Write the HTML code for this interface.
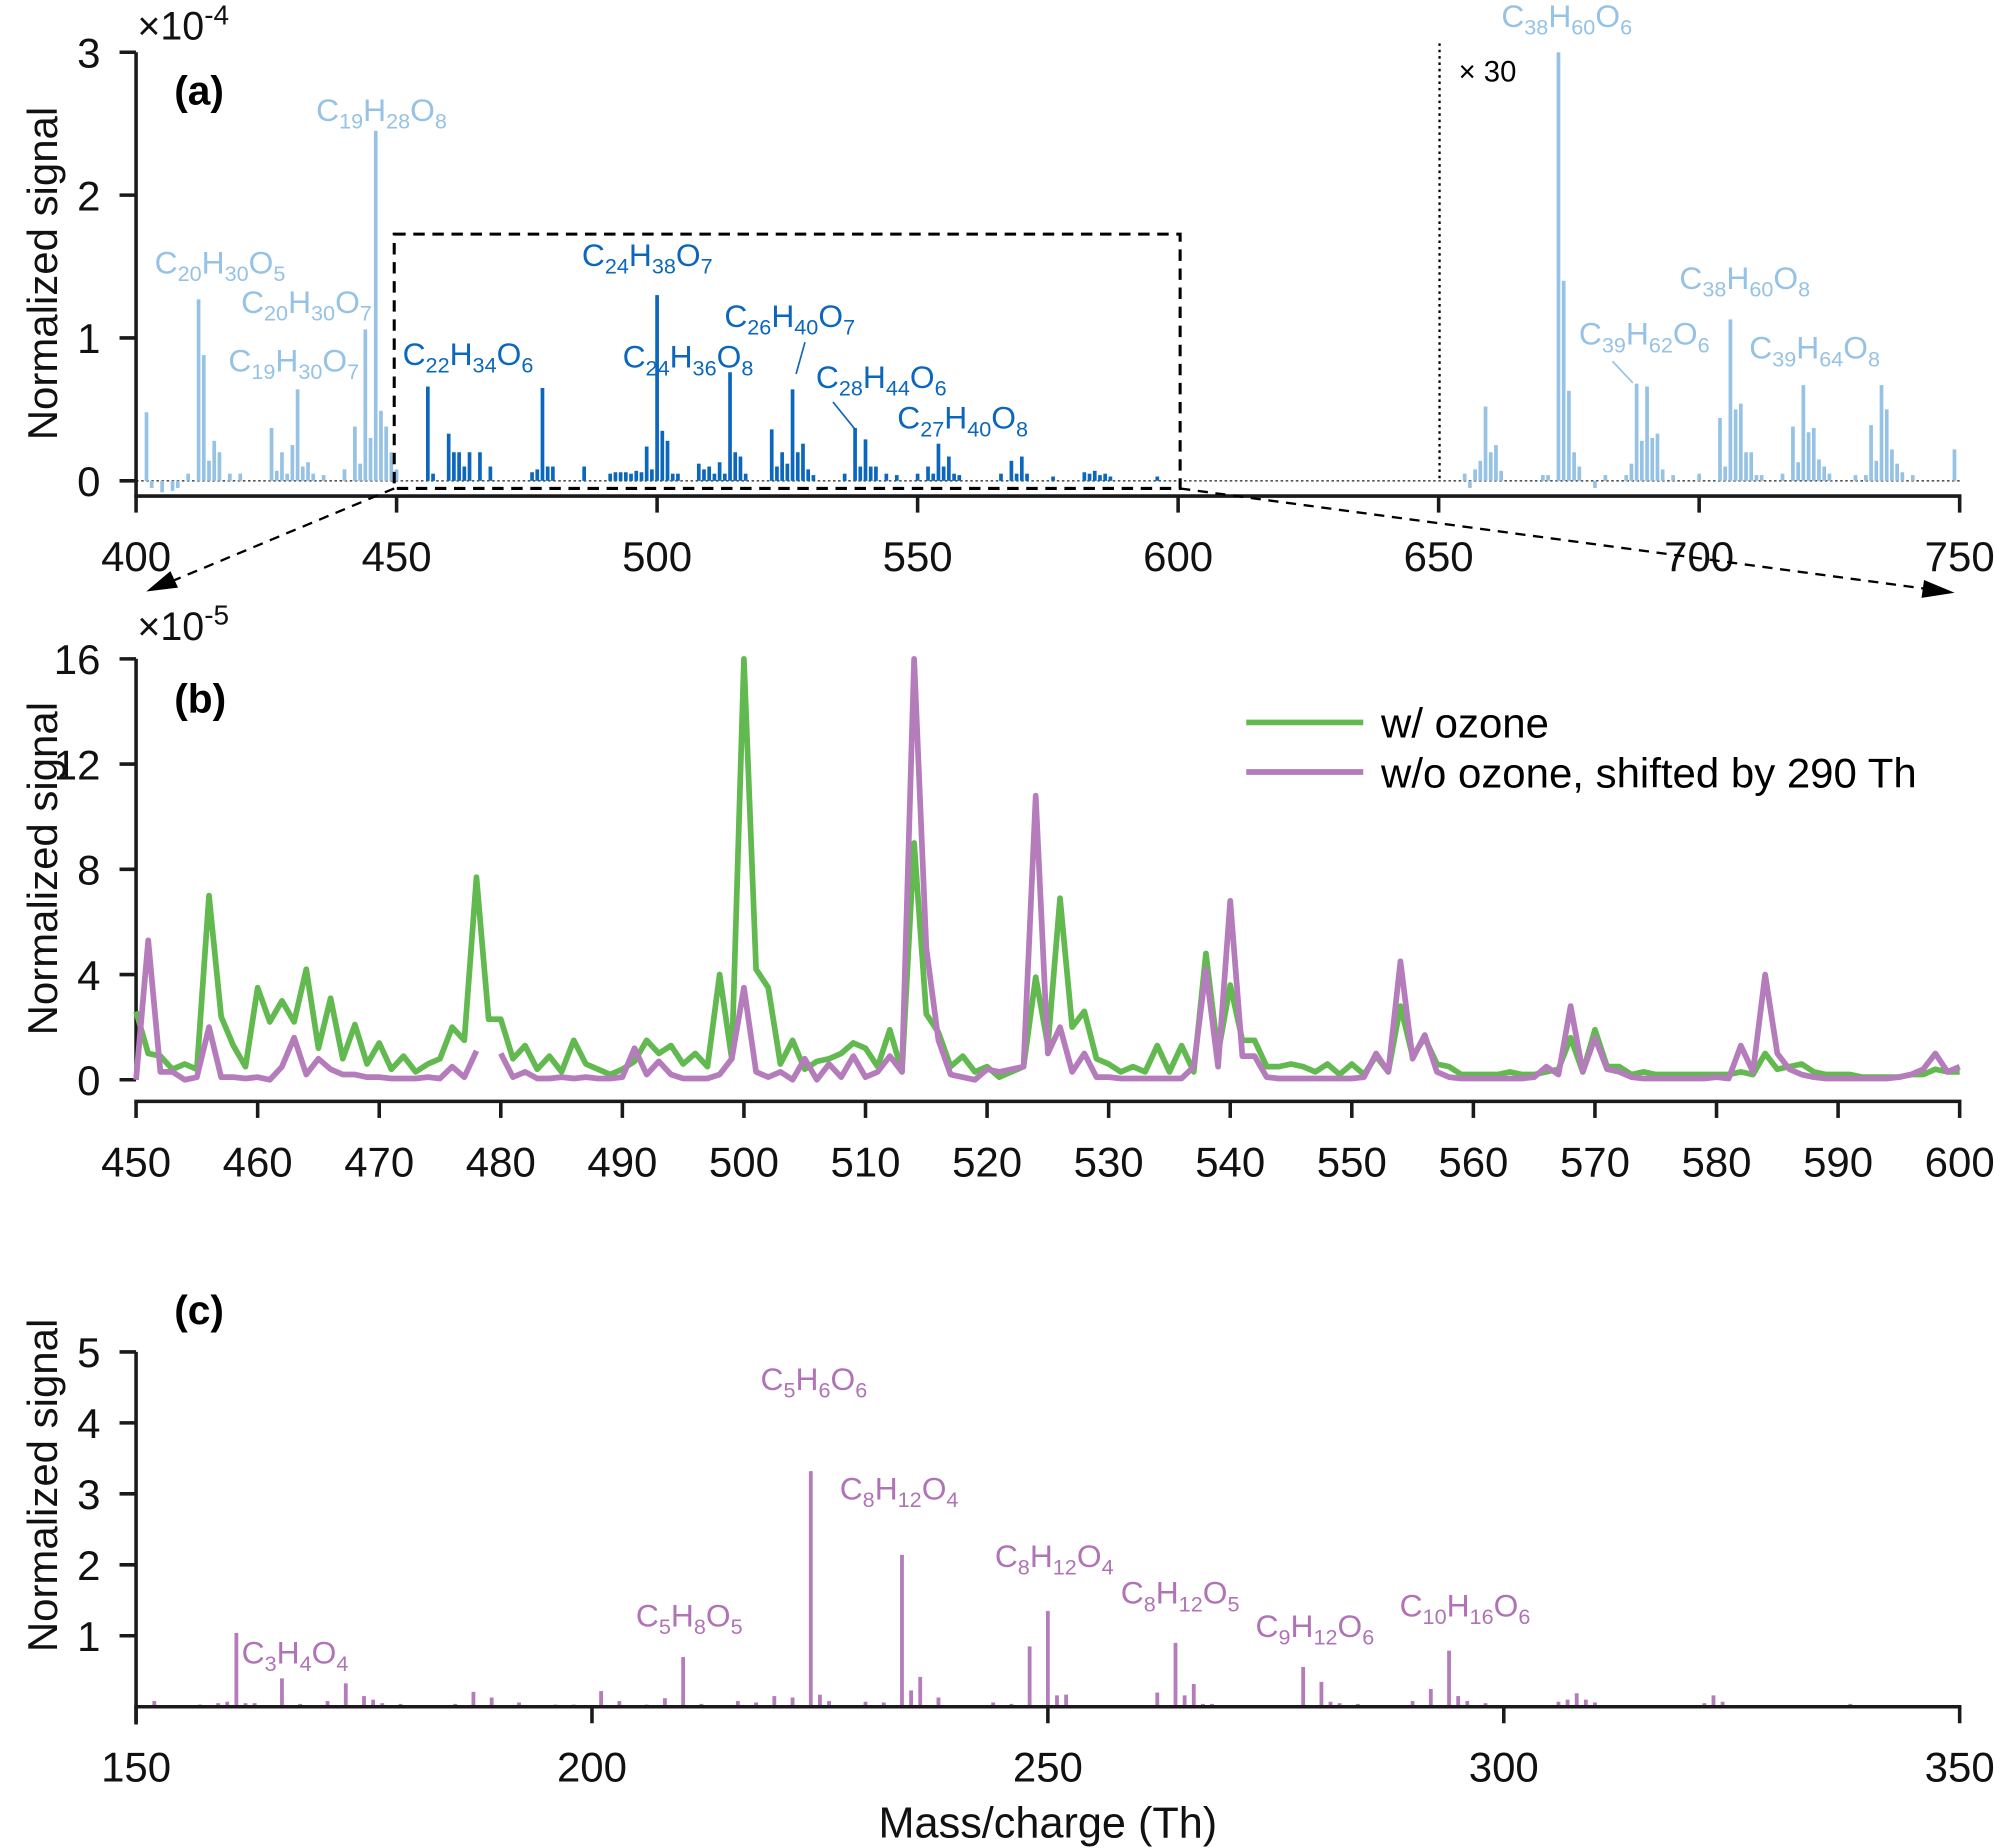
<!DOCTYPE html>
<html><head><meta charset="utf-8">
<style>
html,body{margin:0;padding:0;background:#fff;}
svg{display:block;font-family:"Liberation Sans",Arial,sans-serif;}
.tk{font-size:33px;fill:#111;}
.s{font-size:17px;}
.fl{font-size:25px;}
</style></head>
<body>
<svg id="fig" width="1994" height="1848" viewBox="0 0 1568 1453" xmlns="http://www.w3.org/2000/svg">
<g id="pa"></g>
<g id="pb"></g>
<g id="pc"></g>

<text x="108" y="31" font-size="31" fill="#111">×10<tspan dy="-12" font-size="22">-4</tspan></text>
<text x="137" y="82" font-size="32" font-weight="bold" fill="#000">(a)</text>
<text transform="translate(45,215) rotate(-90)" text-anchor="middle" font-size="33" fill="#111">Normalized signal</text>
<text x="1147" y="64" font-size="23" fill="#000">× 30</text>

<g fill="#95c2e5" class="fl">
<text x="300" y="95" text-anchor="middle">C<tspan class="s" dy="6">19</tspan><tspan dy="-6">H</tspan><tspan class="s" dy="6">28</tspan><tspan dy="-6">O</tspan><tspan class="s" dy="6">8</tspan></text>
<text x="173" y="215" text-anchor="middle">C<tspan class="s" dy="6">20</tspan><tspan dy="-6">H</tspan><tspan class="s" dy="6">30</tspan><tspan dy="-6">O</tspan><tspan class="s" dy="6">5</tspan></text>
<text x="241" y="246" text-anchor="middle">C<tspan class="s" dy="6">20</tspan><tspan dy="-6">H</tspan><tspan class="s" dy="6">30</tspan><tspan dy="-6">O</tspan><tspan class="s" dy="6">7</tspan></text>
<text x="231" y="292" text-anchor="middle">C<tspan class="s" dy="6">19</tspan><tspan dy="-6">H</tspan><tspan class="s" dy="6">30</tspan><tspan dy="-6">O</tspan><tspan class="s" dy="6">7</tspan></text>
<text x="1232" y="21" text-anchor="middle">C<tspan class="s" dy="6">38</tspan><tspan dy="-6">H</tspan><tspan class="s" dy="6">60</tspan><tspan dy="-6">O</tspan><tspan class="s" dy="6">6</tspan></text>
<text x="1372" y="227" text-anchor="middle">C<tspan class="s" dy="6">38</tspan><tspan dy="-6">H</tspan><tspan class="s" dy="6">60</tspan><tspan dy="-6">O</tspan><tspan class="s" dy="6">8</tspan></text>
<text x="1293" y="271" text-anchor="middle">C<tspan class="s" dy="6">39</tspan><tspan dy="-6">H</tspan><tspan class="s" dy="6">62</tspan><tspan dy="-6">O</tspan><tspan class="s" dy="6">6</tspan></text>
<text x="1427" y="282" text-anchor="middle">C<tspan class="s" dy="6">39</tspan><tspan dy="-6">H</tspan><tspan class="s" dy="6">64</tspan><tspan dy="-6">O</tspan><tspan class="s" dy="6">8</tspan></text>
<line x1="1268" y1="284" x2="1284" y2="301" stroke="#95c2e5" stroke-width="1.3"/>
</g>
<g fill="#0b66bd" class="fl">
<text x="368" y="287" text-anchor="middle">C<tspan class="s" dy="6">22</tspan><tspan dy="-6">H</tspan><tspan class="s" dy="6">34</tspan><tspan dy="-6">O</tspan><tspan class="s" dy="6">6</tspan></text>
<text x="509" y="209" text-anchor="middle">C<tspan class="s" dy="6">24</tspan><tspan dy="-6">H</tspan><tspan class="s" dy="6">38</tspan><tspan dy="-6">O</tspan><tspan class="s" dy="6">7</tspan></text>
<text x="541" y="289" text-anchor="middle">C<tspan class="s" dy="6">24</tspan><tspan dy="-6">H</tspan><tspan class="s" dy="6">36</tspan><tspan dy="-6">O</tspan><tspan class="s" dy="6">8</tspan></text>
<text x="621" y="257" text-anchor="middle">C<tspan class="s" dy="6">26</tspan><tspan dy="-6">H</tspan><tspan class="s" dy="6">40</tspan><tspan dy="-6">O</tspan><tspan class="s" dy="6">7</tspan></text>
<text x="693" y="305" text-anchor="middle">C<tspan class="s" dy="6">28</tspan><tspan dy="-6">H</tspan><tspan class="s" dy="6">44</tspan><tspan dy="-6">O</tspan><tspan class="s" dy="6">6</tspan></text>
<text x="757" y="337" text-anchor="middle">C<tspan class="s" dy="6">27</tspan><tspan dy="-6">H</tspan><tspan class="s" dy="6">40</tspan><tspan dy="-6">O</tspan><tspan class="s" dy="6">8</tspan></text>
<line x1="633" y1="269" x2="626" y2="294" stroke="#0b66bd" stroke-width="1.3"/>
<line x1="655" y1="316" x2="672" y2="337" stroke="#0b66bd" stroke-width="1.3"/>
</g>

<rect x="310" y="184" width="618" height="200" fill="none" stroke="#000" stroke-width="2.4" stroke-dasharray="9,6"/>
<line x1="310" y1="384" x2="135" y2="457" stroke="#000" stroke-width="1.8" stroke-dasharray="8,6"/>
<polygon points="115,465 134,449 140,462" fill="#000"/>
<line x1="928" y1="384" x2="1515" y2="463" stroke="#000" stroke-width="1.8" stroke-dasharray="8,6"/>
<polygon points="1537,466 1513,456 1511,470" fill="#000"/>
<line x1="1132" y1="34" x2="1132" y2="378" stroke="#000" stroke-width="1.8" stroke-dasharray="2,3"/>

<text x="108" y="503" font-size="31" fill="#111">×10<tspan dy="-12" font-size="22">-5</tspan></text>
<text x="137" y="560" font-size="32" font-weight="bold" fill="#000">(b)</text>
<text transform="translate(45,683) rotate(-90)" text-anchor="middle" font-size="33" fill="#111">Normalized signal</text>
<line x1="980" y1="568" x2="1072" y2="568" stroke="#62b94f" stroke-width="4.5"/>
<text x="1086" y="580" font-size="33" fill="#000">w/ ozone</text>
<line x1="980" y1="607" x2="1072" y2="607" stroke="#b47cbb" stroke-width="4.5"/>
<text x="1086" y="619" font-size="33" fill="#000">w/o ozone, shifted by 290 Th</text>

<text x="137" y="1041" font-size="32" font-weight="bold" fill="#000">(c)</text>
<text transform="translate(45,1168) rotate(-90)" text-anchor="middle" font-size="33" fill="#111">Normalized signal</text>
<text x="824" y="1445" text-anchor="middle" font-size="34" fill="#111">Mass/charge (Th)</text>
<g fill="#b073b5" class="fl">
<text x="232" y="1308" text-anchor="middle">C<tspan class="s" dy="6">3</tspan><tspan dy="-6">H</tspan><tspan class="s" dy="6">4</tspan><tspan dy="-6">O</tspan><tspan class="s" dy="6">4</tspan></text>
<text x="542" y="1279" text-anchor="middle">C<tspan class="s" dy="6">5</tspan><tspan dy="-6">H</tspan><tspan class="s" dy="6">8</tspan><tspan dy="-6">O</tspan><tspan class="s" dy="6">5</tspan></text>
<text x="640" y="1093" text-anchor="middle">C<tspan class="s" dy="6">5</tspan><tspan dy="-6">H</tspan><tspan class="s" dy="6">6</tspan><tspan dy="-6">O</tspan><tspan class="s" dy="6">6</tspan></text>
<text x="707" y="1179" text-anchor="middle">C<tspan class="s" dy="6">8</tspan><tspan dy="-6">H</tspan><tspan class="s" dy="6">12</tspan><tspan dy="-6">O</tspan><tspan class="s" dy="6">4</tspan></text>
<text x="829" y="1232" text-anchor="middle">C<tspan class="s" dy="6">8</tspan><tspan dy="-6">H</tspan><tspan class="s" dy="6">12</tspan><tspan dy="-6">O</tspan><tspan class="s" dy="6">4</tspan></text>
<text x="928" y="1261" text-anchor="middle">C<tspan class="s" dy="6">8</tspan><tspan dy="-6">H</tspan><tspan class="s" dy="6">12</tspan><tspan dy="-6">O</tspan><tspan class="s" dy="6">5</tspan></text>
<text x="1034" y="1287" text-anchor="middle">C<tspan class="s" dy="6">9</tspan><tspan dy="-6">H</tspan><tspan class="s" dy="6">12</tspan><tspan dy="-6">O</tspan><tspan class="s" dy="6">6</tspan></text>
<text x="1152" y="1271" text-anchor="middle">C<tspan class="s" dy="6">10</tspan><tspan dy="-6">H</tspan><tspan class="s" dy="6">16</tspan><tspan dy="-6">O</tspan><tspan class="s" dy="6">6</tspan></text>
</g>
</svg>
<script>
var aLightMz = [402,403,405,407,408,410,412,413,414,415,416,418,420,426,427,428,429,430,431,432,433,434,436,440,442,443,444,445,446,447,448,449,450];
var aLightVal = [0.48,-0.05,-0.08,-0.07,-0.05,0.05,1.27,0.88,0.14,0.28,0.2,0.05,0.05,0.37,0.07,0.2,0.05,0.25,0.64,0.1,0.13,0.05,0.04,0.08,0.38,0.12,1.06,0.3,2.45,0.49,0.38,0.2,0.08];
var aDarkMz = [456,457,460,461,462,463,464,466,468,476,477,478,479,480,486,491,492,493,494,495,496,497,498,499,500,501,502,503,504,508,509,510,511,512,513,514,515,516,517,522,523,524,525,526,527,528,529,530,536,538,539,540,541,542,544,546,550,552,553,554,555,556,557,558,566,568,569,570,571,576,582,583,584,585,586,587,596];
var aDarkVal = [0.66,0.05,0.33,0.2,0.2,0.1,0.2,0.2,0.1,0.06,0.08,0.65,0.1,0.1,0.1,0.05,0.06,0.06,0.06,0.05,0.07,0.06,0.24,0.08,1.3,0.35,0.28,0.05,0.05,0.12,0.08,0.1,0.05,0.13,0.05,0.76,0.2,0.17,0.05,0.36,0.1,0.2,0.12,0.64,0.2,0.26,0.08,0.04,0.05,0.37,0.1,0.29,0.1,0.1,0.05,0.04,0.05,0.1,0.05,0.26,0.1,0.17,0.05,0.04,0.05,0.14,0.05,0.17,0.05,0.03,0.06,0.05,0.07,0.04,0.05,0.03,0.03];
var aHighMz = [655,656,657,658,659,660,661,662,670,671,673,674,675,676,677,680,682,686,687,688,689,690,691,692,693,695,700,704,705,706,707,708,709,710,711,712,716,718,719,720,721,722,723,724,725,730,732,733,734,735,736,737,738,739,741,749];
var aHighVal = [0.05,-0.05,0.08,0.14,0.52,0.2,0.25,0.07,0.04,0.04,3.0,1.4,0.63,0.2,0.1,-0.05,0.04,0.04,0.12,0.68,0.28,0.66,0.3,0.33,0.08,0.04,0.05,0.44,0.1,1.13,0.5,0.54,0.2,0.2,0.04,0.04,0.05,0.38,0.13,0.67,0.34,0.37,0.15,0.1,0.05,0.04,0.04,0.39,0.14,0.67,0.5,0.22,0.12,0.06,0.04,0.22];
var aXTicks = [400,450,500,550,600,650,700,750];
var aYTicks = [0,1,2,3];

var bMz = [];
for (var m = 450; m <= 600; m++) bMz.push(m);
var bGreen = [2.6,1.0,0.9,0.4,0.6,0.4,7.0,2.4,1.3,0.5,3.5,2.2,3.0,2.2,4.2,1.2,3.1,0.8,2.1,0.6,
1.4,0.4,0.9,0.3,0.6,0.8,2.0,1.5,7.7,2.3,2.3,0.8,1.3,0.4,0.9,0.3,1.5,0.6,0.4,0.2,
0.4,0.7,1.5,1.0,1.3,0.6,1.0,0.5,4.0,0.8,16.0,4.2,3.5,0.6,1.5,0.4,0.7,0.8,1.0,1.4,
1.2,0.5,1.9,0.3,9.0,2.5,1.8,0.5,0.9,0.3,0.5,0.1,0.3,0.5,3.9,1.3,6.9,2.0,2.6,0.8,
0.6,0.3,0.5,0.3,1.3,0.3,1.3,0.3,4.8,1.0,3.6,1.5,1.5,0.5,0.5,0.6,0.5,0.3,0.6,0.2,
0.6,0.2,0.9,0.3,2.8,0.9,1.6,0.6,0.5,0.2,0.2,0.2,0.2,0.3,0.2,0.2,0.3,0.4,1.6,0.3,
1.9,0.5,0.5,0.2,0.3,0.2,0.2,0.2,0.2,0.2,0.2,0.2,0.3,0.2,1.0,0.4,0.5,0.6,0.3,0.2,
0.2,0.2,0.1,0.1,0.1,0.1,0.2,0.2,0.4,0.3,0.3];
var bPurple = [0,5.3,0.3,0.3,0,0.1,2.0,0.1,0.1,0.05,0.1,0,0.5,1.6,0.2,0.8,0.4,0.2,0.2,0.1,
0.1,0.05,0.05,0.05,0.1,0.05,0.5,0.1,1.1,null,1.0,0.1,0.3,0.05,0.05,0.1,0.05,0.1,0.05,0.05,
0.1,1.2,0.2,0.7,0.2,0.05,0.05,0.05,0.2,0.8,3.5,0.3,0.1,0.3,0,0.8,0,0.6,0.1,0.9,
0.1,0.3,0.9,0.3,16.0,5.0,1.5,0.2,0.1,0.0,0.4,0.3,0.4,0.5,10.8,1.0,2.0,0.3,1.0,0.1,
0.1,0.05,0.05,0.05,0.05,0.05,0.05,0.5,4.2,0.5,6.8,0.9,0.9,0.1,0.05,0.05,0.05,0.05,0.05,0.05,
0.05,0.1,1.0,0.3,4.5,0.8,1.7,0.3,0.1,0.05,0.05,0.05,0.05,0.05,0.05,0.1,0.5,0.2,2.8,0.3,
1.6,0.4,0.3,0.1,0.05,0.05,0.05,0.05,0.05,0.05,0.1,0.05,1.3,0.3,4.0,1.0,0.4,0.2,0.1,0.05,
0.05,0.05,0.05,0.05,0.05,0.1,0.2,0.4,1.0,0.3,0.5];
var bXTicks = [450,460,470,480,490,500,510,520,530,540,550,560,570,580,590,600];
var bYTicks = [0,4,8,12,16];

var cMz = [152,157,159,160,161,162,163,166,168,171,173,175,176,177,179,185,187,189,192,196,198,201,203,206,208,210,212,216,218,220,222,224,225,226,230,232,234,235,236,238,244,246,248,250,251,252,262,264,265,266,267,268,278,280,281,282,284,290,292,294,295,296,298,306,307,308,309,310,322,323,324,338];
var cVal = [0.08,0.03,0.05,0.07,1.04,0.05,0.05,0.4,0.04,0.08,0.33,0.15,0.1,0.05,0.04,0.04,0.21,0.13,0.06,0.03,0.03,0.22,0.08,0.03,0.12,0.7,0.04,0.08,0.06,0.15,0.13,3.32,0.17,0.08,0.07,0.06,2.14,0.23,0.42,0.13,0.06,0.04,0.85,1.35,0.16,0.17,0.2,0.9,0.16,0.32,0.04,0.04,0.56,0.35,0.07,0.05,0.04,0.08,0.25,0.79,0.15,0.08,0.05,0.07,0.1,0.19,0.1,0.06,0.05,0.16,0.07,0.04];
var cXTicks = [150,200,250,300,350];
var cYTicks = [1,2,3,4,5];

var NS = "http://www.w3.org/2000/svg";
function el(tag, parent) { var e = document.createElementNS(NS, tag); parent.appendChild(e); return e; }
function lin(d0, d1, r0, r1) { return function (v) { return r0 + (v - d0) * (r1 - r0) / (d1 - d0); }; }

var pa = document.getElementById('pa'), pb = document.getElementById('pb'), pc = document.getElementById('pc');
var L = 107, R = 1541;

var ax = lin(400, 750, L, R), ay = lin(0, 3, 378, 41);
var bx = lin(450, 600, L, R), by = lin(0, 16, 849, 518);
var cx = lin(150, 350, L, R), cy = lin(0, 5, 1342, 1063);

function drawAxes(g, xs, ys, xticks, yticks, xAxisY, yTop, yBottom, name) {
  var yl = el('line', g);
  
  
  yl.setAttribute('x1', L); yl.setAttribute('x2', L); yl.setAttribute('y1', yTop); yl.setAttribute('y2', yBottom);
  yl.setAttribute('stroke', '#1a1a1a'); yl.setAttribute('stroke-width', '2.8');
  var xl = el('line', g);
  
  
  xl.setAttribute('x1', L - 1.4); xl.setAttribute('x2', R + 1.4); xl.setAttribute('y1', xAxisY); xl.setAttribute('y2', xAxisY);
  xl.setAttribute('stroke', '#1a1a1a'); xl.setAttribute('stroke-width', '2.8');
  xticks.forEach(function (t) {
    var tl = el('line', g);
    
    
    tl.setAttribute('x1', xs(t)); tl.setAttribute('x2', xs(t)); tl.setAttribute('y1', xAxisY); tl.setAttribute('y2', xAxisY + 13);
    tl.setAttribute('stroke', '#1a1a1a'); tl.setAttribute('stroke-width', '2.8');
    var tx = el('text', g);
    
    
    tx.setAttribute('x', xs(t)); tx.setAttribute('y', xAxisY + 59); tx.setAttribute('text-anchor', 'middle');
    tx.setAttribute('class', 'tk'); tx.textContent = t;
  });
  yticks.forEach(function (t) {
    var tl = el('line', g);
    
    
    tl.setAttribute('x1', L); tl.setAttribute('x2', L - 13); tl.setAttribute('y1', ys(t)); tl.setAttribute('y2', ys(t));
    tl.setAttribute('stroke', '#1a1a1a'); tl.setAttribute('stroke-width', '2.8');
    var tx = el('text', g);
    
    
    tx.setAttribute('x', L - 28); tx.setAttribute('y', ys(t) + 12); tx.setAttribute('text-anchor', 'end');
    tx.setAttribute('class', 'tk'); tx.textContent = t;
  });
}

function drawBars(g, mz, val, xs, ys, color, name, w) {
  for (var i = 0; i < mz.length; i++) {
    var y0 = ys(0), y1 = ys(val[i]);
    var r = el('rect', g);
    
    
    r.setAttribute('x', xs(mz[i]) - w / 2); r.setAttribute('width', w);
    r.setAttribute('y', Math.min(y0, y1)); r.setAttribute('height', Math.max(0.6, Math.abs(y1 - y0)));
    r.setAttribute('fill', color);
  }
}

var zl = el('line', pa);


zl.setAttribute('x1', L); zl.setAttribute('x2', R); zl.setAttribute('y1', ay(0)); zl.setAttribute('y2', ay(0));
zl.setAttribute('stroke', '#555'); zl.setAttribute('stroke-width', '1.3'); zl.setAttribute('stroke-dasharray', '2,2');
drawBars(pa, aLightMz, aLightVal, ax, ay, '#95c2e5', 'bar-light', 2.9);
drawBars(pa, aDarkMz, aDarkVal, ax, ay, '#0b66bd', 'bar-dark', 2.9);
drawBars(pa, aHighMz, aHighVal, ax, ay, '#95c2e5', 'bar-x30', 2.9);
drawAxes(pa, ax, ay, aXTicks, aYTicks, 390, 41, 390, 'panel-a');

drawAxes(pb, bx, by, bXTicks, bYTicks, 866, 518, 849, 'panel-b');
function drawLine(g, xs, ys, mz, vals, color, name) {
  var d = '', pen = false;
  for (var i = 0; i < mz.length; i++) {
    if (vals[i] === null) { pen = false; continue; }
    d += (pen ? 'L' : 'M') + xs(mz[i]).toFixed(2) + ',' + ys(vals[i]).toFixed(2);
    pen = true;
  }
  var p = el('path', g);
  
  
  p.setAttribute('d', d); p.setAttribute('fill', 'none'); p.setAttribute('stroke', color);
  p.setAttribute('stroke-width', '4.5'); p.setAttribute('stroke-linejoin', 'round');
}
drawLine(pb, bx, by, bMz, bGreen, '#62b94f', 'line-with-ozone');
drawLine(pb, bx, by, bMz, bPurple, '#b47cbb', 'line-without-ozone');

drawBars(pc, cMz, cVal, cx, cy, '#b47cbb', 'bar-c', 3.0);
drawAxes(pc, cx, cy, cXTicks, cYTicks, 1342, 1063, 1356, 'panel-c');
</script>
</body></html>
